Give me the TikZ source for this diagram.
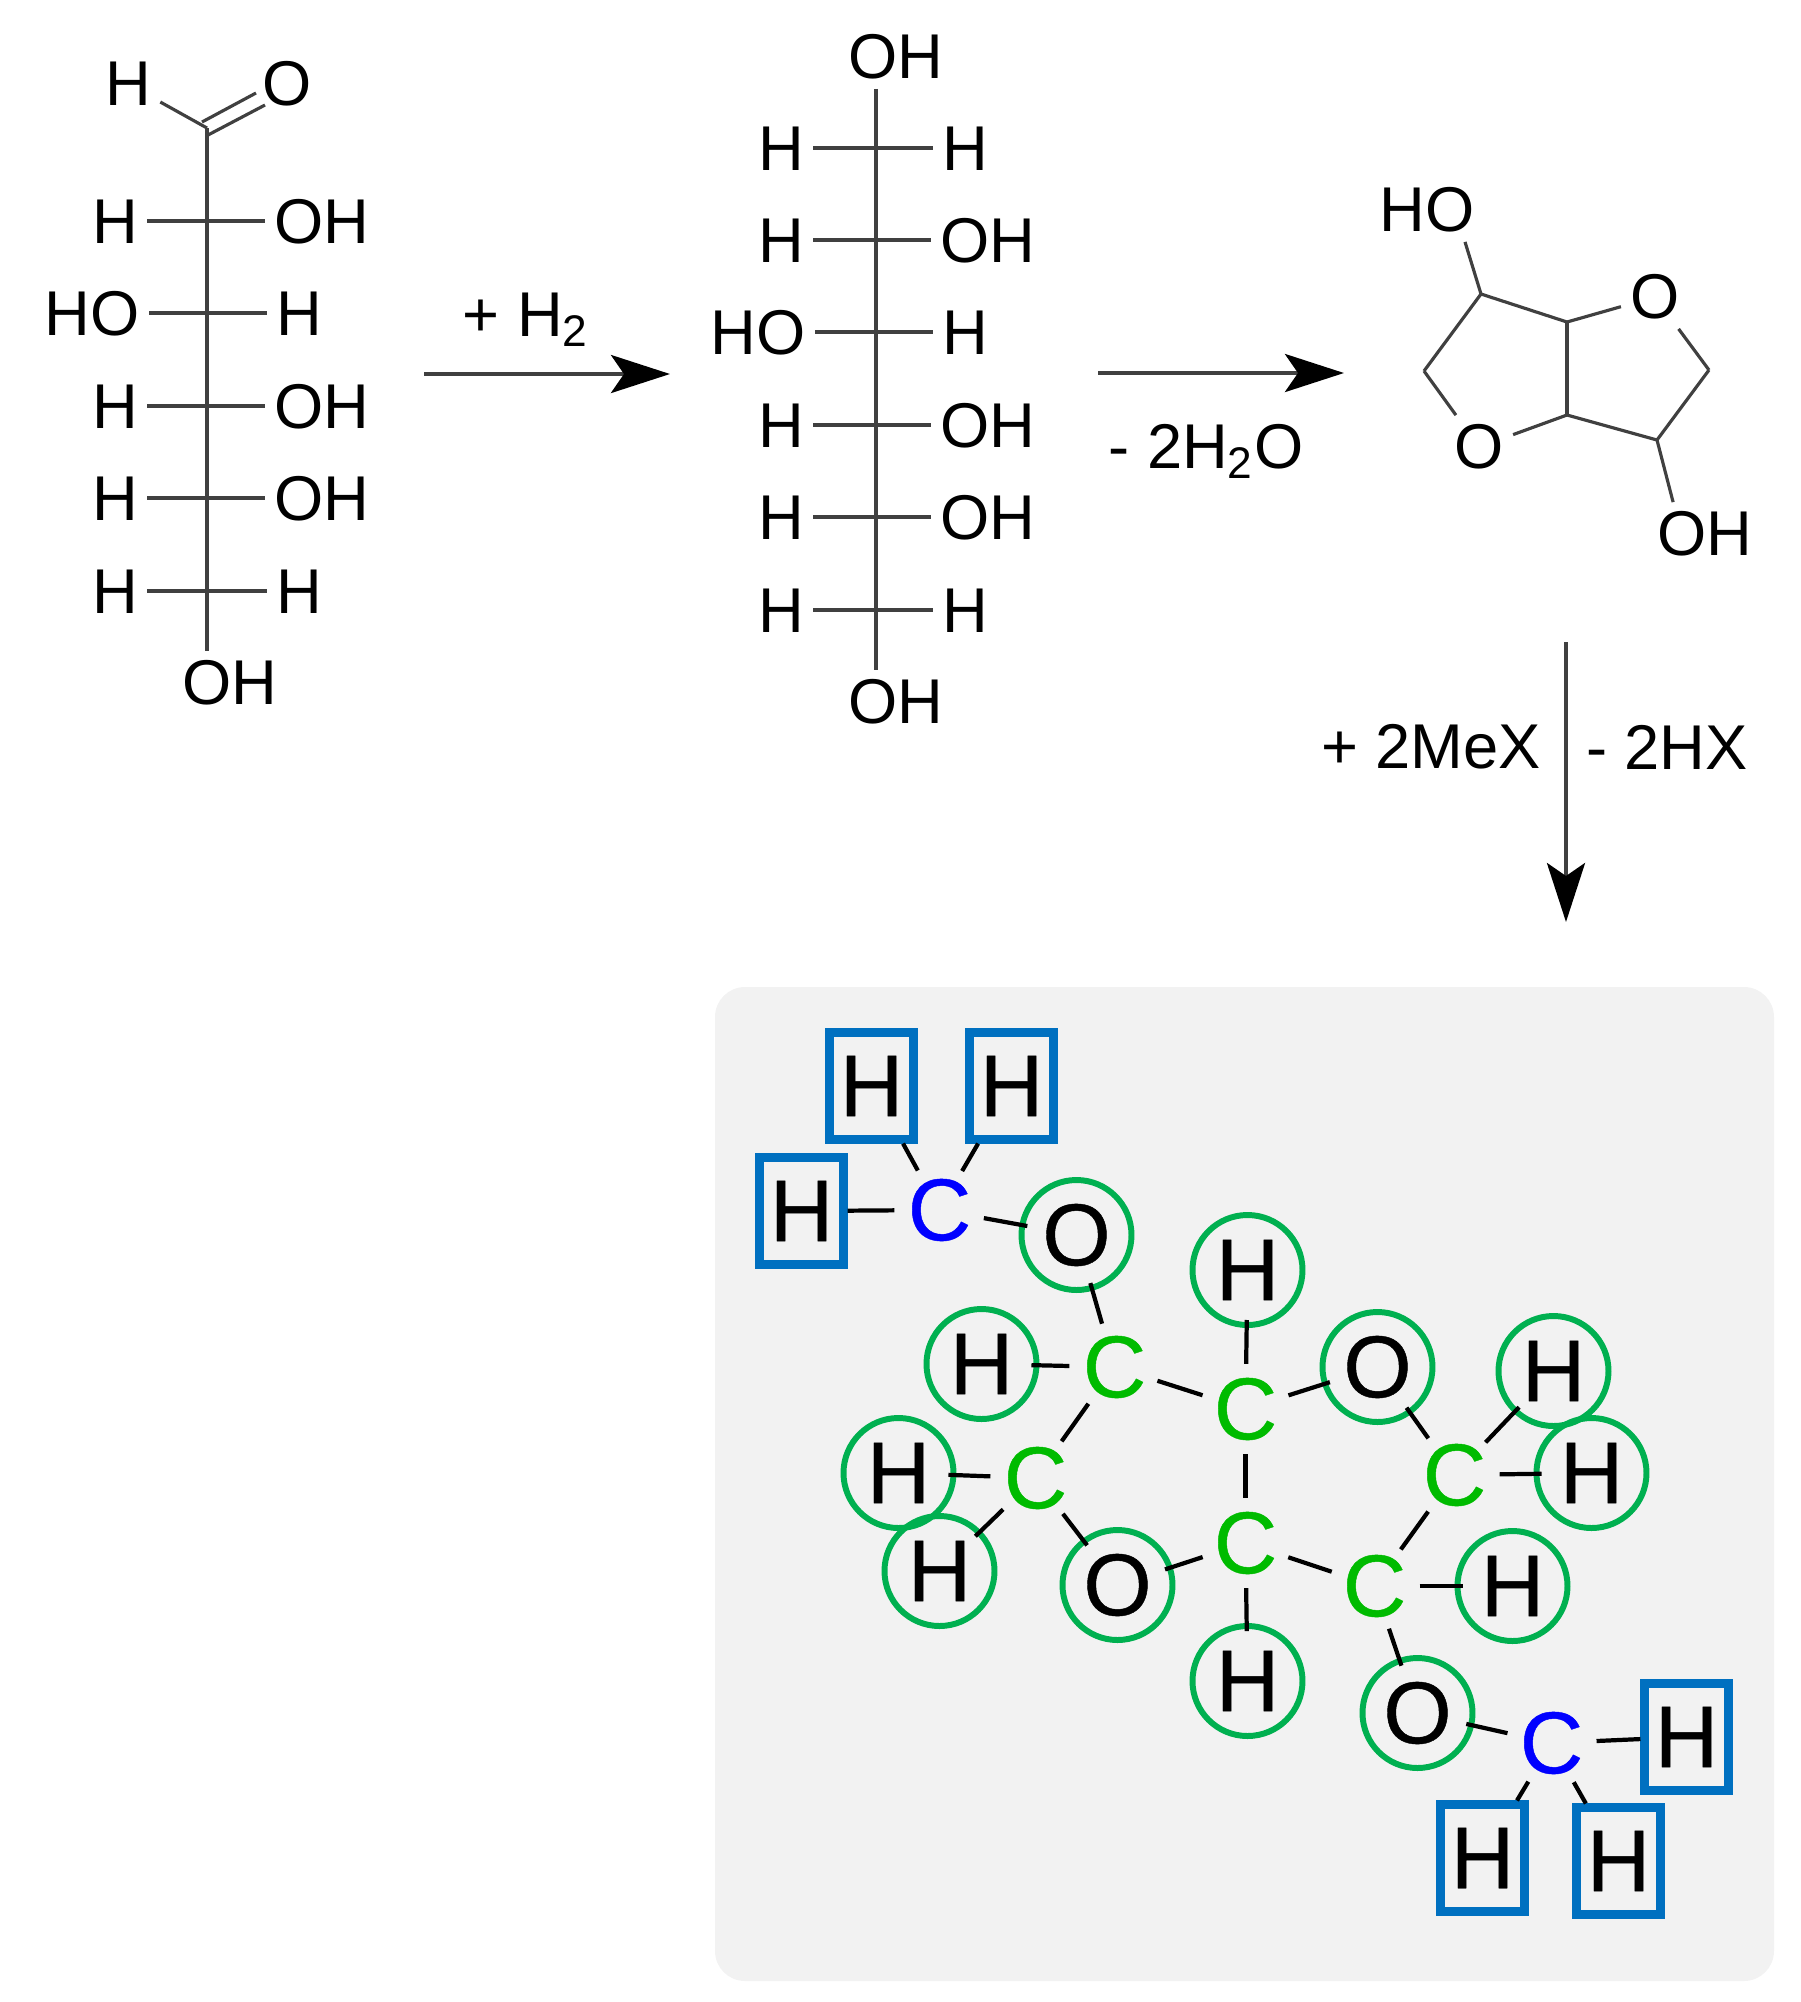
\documentclass[tikz,border=0pt]{standalone}
\usepackage{fontspec}
\setmainfont{Liberation Sans}
\newfontfamily\heavyfont[FakeBold=0.5]{Liberation Sans}
\usepackage{xcolor}
\usetikzlibrary{arrows.meta}
\definecolor{panelgray}{HTML}{F2F2F2}
\definecolor{ringgreen}{HTML}{00B050}
\definecolor{boxblue}{HTML}{0070C0}
\definecolor{cgreen}{HTML}{00BB00}
\definecolor{bondgray}{HTML}{404040}
\tikzset{atm/.style={font=\fontsize{18}{20}\selectfont,inner sep=2.5pt}}
\tikzset{lbl/.style={font=\fontsize{18}{20}\selectfont,inner sep=0pt}}
\tikzset{bnd/.style={bondgray,line width=0.9pt}}
\tikzset{rxn/.style={->,bondgray,line width=1.2pt}}
\tikzset{hgr/.style={circle,draw=ringgreen,line width=1.7pt,minimum size=1.10cm,inner sep=0pt,font=\heavyfont\fontsize{25}{28}\selectfont}}
\tikzset{hbx/.style={rectangle,draw=boxblue,line width=2.3pt,minimum width=0.84cm,minimum height=1.07cm,inner sep=0pt,font=\heavyfont\fontsize{25}{28}\selectfont}}
\tikzset{cgr/.style={circle,minimum size=0.86cm,inner sep=0pt,text=cgreen,font=\heavyfont\fontsize{25}{28}\selectfont}}
\tikzset{cbl/.style={circle,minimum size=0.86cm,inner sep=0pt,text=blue,font=\heavyfont\fontsize{25}{28}\selectfont}}
\tikzset{lnk/.style={black,line width=1.2pt,shorten >=-0.8mm}}
\tikzset{ccl/.style={black,line width=1.2pt}}

\begin{document}
\begin{tikzpicture}[x=1cm,y=-1cm,>={Stealth[length=5.9mm,width=3.8mm,inset=1.3mm,color=black,fill=black]}]
    \useasboundingbox (0,0) rectangle (18.01,20.02);
    \fill [panelgray,rounded corners=0.3cm] (7.15,9.87) rectangle (17.74,19.81);

    % aldehyde chain
    \node[atm] (ha)at (1.28,0.84) {H};
    \node[atm] (oa)at (2.87,0.84) {O};
    \coordinate (ca) at (2.07,1.28);
    \coordinate (l1) at (2.07,2.21);
    \coordinate (l2) at (2.07,3.13);
    \coordinate (l3) at (2.07,4.06);
    \coordinate (l4) at (2.07,4.98);
    \coordinate (l5) at (2.07,5.91);
    \node[atm] (lh1)at (1.15,2.22) {H};
    \node[atm] (lr1)at (3.22,2.22) {OH};
    \node[atm] (lh2)at (0.92,3.14) {HO};
    \node[atm] (lr2)at (2.99,3.14) {H};
    \node[atm] (lh3)at (1.15,4.07) {H};
    \node[atm] (lr3)at (3.22,4.07) {OH};
    \node[atm] (lh4)at (1.15,4.99) {H};
    \node[atm] (lr4)at (3.22,4.99) {OH};
    \node[atm] (lh5)at (1.15,5.92) {H};
    \node[atm] (lr5)at (2.99,5.92) {H};
    \node[atm] (lb)at (2.30,6.83) {OH};

    \draw [bnd] (ca) to [] (ha);
    \draw [bnd] ([shift={(-0.05,-0.06)}]ca) to [] ([shift={(-0.31,0.09)}]oa);
    \draw [bnd] ([shift={(0.01,0.07)}]ca) to [] ([shift={(-0.22,0.21)}]oa);
    \draw [bnd] (ca) to [] (ca |- lb.north);
    \draw [bnd] (l1) to [] (l1 -| lh1.east);
    \draw [bnd] (l1) to [] (l1 -| lr1.west);
    \draw [bnd] (l2) to [] (l2 -| lh2.east);
    \draw [bnd] (l2) to [] (l2 -| lr2.west);
    \draw [bnd] (l3) to [] (l3 -| lh3.east);
    \draw [bnd] (l3) to [] (l3 -| lr3.west);
    \draw [bnd] (l4) to [] (l4 -| lh4.east);
    \draw [bnd] (l4) to [] (l4 -| lr4.west);
    \draw [bnd] (l5) to [] (l5 -| lh5.east);
    \draw [bnd] (l5) to [] (l5 -| lr5.west);

    % sorbitol chain
    \node[atm] (mt)at (8.96,0.57) {OH};
    \coordinate (m1) at (8.76,1.48);
    \coordinate (m2) at (8.76,2.40);
    \coordinate (m3) at (8.76,3.32);
    \coordinate (m4) at (8.76,4.25);
    \coordinate (m5) at (8.76,5.17);
    \coordinate (m6) at (8.76,6.10);
    \node[atm] (mh1)at (7.81,1.49) {H};
    \node[atm] (mr1)at (9.65,1.49) {H};
    \node[atm] (mh2)at (7.81,2.41) {H};
    \node[atm] (mr2)at (9.88,2.41) {OH};
    \node[atm] (mh3)at (7.58,3.33) {HO};
    \node[atm] (mr3)at (9.65,3.33) {H};
    \node[atm] (mh4)at (7.81,4.26) {H};
    \node[atm] (mr4)at (9.88,4.26) {OH};
    \node[atm] (mh5)at (7.81,5.18) {H};
    \node[atm] (mr5)at (9.88,5.18) {OH};
    \node[atm] (mh6)at (7.81,6.11) {H};
    \node[atm] (mr6)at (9.65,6.11) {H};
    \node[atm] (mb)at (8.96,7.02) {OH};

    \draw [bnd] (m1 |- mt.south) to [] (m1 |- mb.north);
    \draw [bnd] (m1) to [] (m1 -| mh1.east);
    \draw [bnd] (m1) to [] (m1 -| mr1.west);
    \draw [bnd] (m2) to [] (m2 -| mh2.east);
    \draw [bnd] (m2) to [] (m2 -| mr2.west);
    \draw [bnd] (m3) to [] (m3 -| mh3.east);
    \draw [bnd] (m3) to [] (m3 -| mr3.west);
    \draw [bnd] (m4) to [] (m4 -| mh4.east);
    \draw [bnd] (m4) to [] (m4 -| mr4.west);
    \draw [bnd] (m5) to [] (m5 -| mh5.east);
    \draw [bnd] (m5) to [] (m5 -| mr5.west);
    \draw [bnd] (m6) to [] (m6 -| mh6.east);
    \draw [bnd] (m6) to [] (m6 -| mr6.west);

    % bicyclic ring
    \node[atm] (rho)at (14.27,2.10) {HO};
    \node[atm] (roh)at (17.05,5.34) {OH};
    \node[atm] (ro1)at (16.55,2.97) {O};
    \node[atm] (ro2)at (14.79,4.47) {O};
    \coordinate (r1) at (14.81,2.94);
    \coordinate (r2) at (15.67,3.22);
    \coordinate (r3) at (17.09,3.70);
    \coordinate (r4) at (16.57,4.40);
    \coordinate (r5) at (15.67,4.15);
    \coordinate (r6) at (14.24,3.71);

    \draw [bnd] (r1) to [] (rho.-40);
    \draw [bnd] (r1) to [] (r2);
    \draw [bnd] (r2) to [] (ro1);
    \draw [bnd] (ro1) to [] (r3);
    \draw [bnd] (r3) to [] (r4);
    \draw [bnd] (r4) to [] (r5);
    \draw [bnd] (r4) to [] (roh.135);
    \draw [bnd] (r5) to [] (r2);
    \draw [bnd] (r5) to [] (ro2);
    \draw [bnd] (ro2) to [] (r6);
    \draw [bnd] (r6) to [] (r1);

    % reaction arrows
    \coordinate (a1) at (4.24,3.74);
    \coordinate (a2) at (6.70,3.74);
    \coordinate (b1) at (10.98,3.73);
    \coordinate (b2) at (13.44,3.73);
    \coordinate (d1) at (15.66,6.42);
    \coordinate (d2) at (15.66,9.22);
    \draw [rxn] (a1) to [] (a2);
    \draw [rxn] (b1) to [] (b2);
    \draw [rxn] (d1) to [] (d2);
    \node[lbl] (t1)at (5.26,3.20) {+ H\textsubscript{2}};
    \node[lbl] (t2)at (12.06,4.51) {- 2H\textsubscript{2}O};
    \node[lbl] (t3)at (14.31,7.47) {+ 2MeX};
    \node[lbl] (t4)at (16.67,7.47) {- 2HX};

    % ether in the panel
    \begin{scope}[shift={(0.015,0.01)}]
    \node[hbx] (b1h)at (8.70,10.85) {H};
    \node[hbx] (b2h)at (10.10,10.85) {H};
    \node[hbx] (b3h)at (8.00,12.10) {H};
    \node[cbl] (me1)at (9.38,12.09) {C};
    \node[hgr] (o1)at (10.75,12.34) {O};
    \node[hgr] (h1)at (12.46,12.69) {H};
    \node[hgr] (h2)at (9.80,13.63) {H};
    \node[cgr] (c1)at (11.13,13.66) {C};
    \node[cgr] (c2)at (12.44,14.08) {C};
    \node[hgr] (o2)at (13.76,13.66) {O};
    \node[hgr] (h3)at (15.52,13.70) {H};
    \node[cgr] (c3)at (14.53,14.74) {C};
    \node[hgr] (h4)at (15.90,14.72) {H};
    \node[hgr] (h5)at (8.97,14.72) {H};
    \node[cgr] (c4)at (10.34,14.77) {C};
    \node[hgr] (h6)at (9.38,15.70) {H};
    \node[hgr] (o3)at (11.16,15.84) {O};
    \node[cgr] (c5)at (12.44,15.42) {C};
    \node[cgr] (c6)at (13.73,15.85) {C};
    \node[hgr] (h7)at (15.11,15.85) {H};
    \node[hgr] (h8)at (12.46,16.80) {H};
    \node[hgr] (o4)at (14.16,17.12) {O};
    \node[cbl] (me2)at (15.50,17.42) {C};
    \node[hbx] (b4h)at (16.85,17.36) {H};
    \node[hbx] (b5h)at (14.81,18.57) {H};
    \node[hbx] (b6h)at (16.17,18.60) {H};
    \end{scope}

    \draw [ccl] (me1) to [] (b1h);
    \draw [ccl] (me1) to [] (b2h);
    \draw [ccl] (me1) to [] (b3h);
    \draw [lnk] (me1) to [] (o1);
    \draw [lnk] (c1) to [] (o1);
    \draw [lnk] (c1) to [] (h2);
    \draw [ccl] (c1) to [] (c2);
    \draw [ccl] (c1) to [] (c4);
    \draw [lnk] (c2) to [] (h1);
    \draw [lnk] (c2) to [] (o2);
    \draw [ccl] (c2) to [] (c5);
    \draw [lnk] (c3) to [] (o2);
    \draw [lnk] (c3) to [] (h3);
    \draw [lnk] (c3) to [] (h4);
    \draw [ccl] (c3) to [] (c6);
    \draw [lnk] (c4) to [] (h5);
    \draw [lnk] (c4) to [] (h6);
    \draw [lnk] (c4) to [] (o3);
    \draw [lnk] (c5) to [] (o3);
    \draw [lnk] (c5) to [] (h8);
    \draw [ccl] (c5) to [] (c6);
    \draw [lnk] (c6) to [] (h7);
    \draw [lnk] (c6) to [] (o4);
    \draw [lnk] (me2) to [] (o4);
    \draw [ccl] (me2) to [] (b4h);
    \draw [ccl] (me2) to [] (b5h);
    \draw [ccl] (me2) to [] (b6h);
\end{tikzpicture}
\end{document}
